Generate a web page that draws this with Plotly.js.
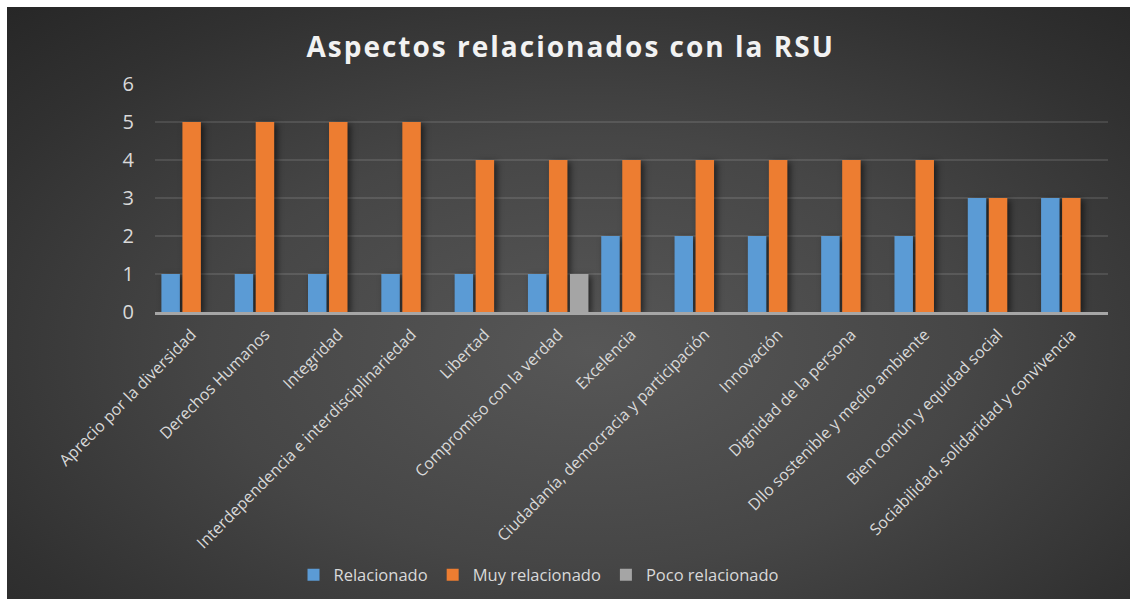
<!DOCTYPE html>
<html>
<head>
<meta charset="utf-8">
<script src="https://cdn.plot.ly/plotly-3.0.1.min.js"></script>
<style>
  html, body { margin: 0; padding: 0; background: #ffffff; }
  #wrap { position: relative; width: 1130px; height: 599px; overflow: hidden; }
  #bg { position: absolute; left: 7px; top: 7px; width: 1123px; height: 592px;
        background: radial-gradient(ellipse 75% 80% at 52% 58%, #575757 0%, #464646 45%, #313131 80%, #272727 100%); }
  #chart { position: absolute; left: 0; top: 0; width: 1130px; height: 599px; }
  .gtitle { letter-spacing: 2px; }
  .barlayer .point path { filter: drop-shadow(3px 2px 3px rgba(0,0,0,0.55)); }
</style>
</head>
<body>
<div id="wrap"><div id="bg"></div><div id="chart"></div></div>
<script>
const categories = [
  "Aprecio por la diversidad",
  "Derechos Humanos",
  "Integridad",
  "Interdependencia e interdisciplinariedad",
  "Libertad",
  "Compromiso con la verdad",
  "Excelencia",
  "Ciudadanía, democracia y participación",
  "Innovación",
  "Dignidad de la persona",
  "Dllo sostenible y medio ambiente",
  "Bien común y equidad social",
  "Sociabilidad, solidaridad y convivencia"
];
const relacionado     = [1, 1, 1, 1, 1, 1, 2, 2, 2, 2, 2, 3, 3];
const muyRelacionado  = [5, 5, 5, 5, 4, 4, 4, 4, 4, 4, 4, 3, 3];
const pocoRelacionado = [null, null, null, null, null, 1, null, null, null, null, null, null, null];
const seriesNames = ["Relacionado", "Muy relacionado", "Poco relacionado"];
const yTicks = [0, 1, 2, 3, 4, 5, 6];

const colors = ["#5b9bd5", "#ed7d31", "#a5a5a5"];
const data = [relacionado, muyRelacionado, pocoRelacionado].map((vals, i) => ({
  type: "bar",
  name: seriesNames[i],
  x: categories,
  y: vals,
  marker: { color: colors[i], line: { width: 0 } },
  hoverinfo: "x+y+name"
}));

const layout = {
  width: 1130,
  height: 599,
  paper_bgcolor: "rgba(0,0,0,0)",
  plot_bgcolor: "rgba(0,0,0,0)",
  font: { family: "Open Sans, sans-serif", color: "#d9d9d9" },
  margin: { l: 155, r: 22, t: 84, b: 287, pad: 0 },
  title: {
    text: "<b>Aspectos relacionados con la RSU</b>",
    font: { family: "Open Sans, sans-serif", size: 28, color: "#f2f2f2" },
    x: 0.505, xanchor: "center",
    y: 1 - 47 / 599, yanchor: "middle"
  },
  barmode: "group",
  bargap: 0.14,
  bargroupgap: 0.12,
  xaxis: {
    type: "category",
    tickangle: -45,
    tickfont: { size: 16, color: "#d9d9d9" },
    showgrid: false,
    showline: true,
    linecolor: "#a6a6a6",
    linewidth: 3,
    ticks: "",
    ticklabelstandoff: 4,
    fixedrange: true
  },
  yaxis: {
    range: [0, 6],
    tickvals: yTicks,
    ticktext: yTicks.map(String),
    tickfont: { size: 20, color: "#d9d9d9" },
    showgrid: true,
    gridcolor: "rgba(255,255,255,0.11)",
    gridwidth: 2,
    zeroline: false,
    showline: false,
    ticks: "",
    ticklabelstandoff: 20,
    fixedrange: true
  },
  showlegend: true,
  legend: {
    orientation: "h",
    xref: "container",
    yref: "container",
    x: 0.477, xanchor: "center",
    y: 24 / 599, yanchor: "middle",
    font: { size: 16.5, color: "#d9d9d9" },
    bgcolor: "rgba(0,0,0,0)",
    traceorder: "normal"
  }
};

Plotly.newPlot("chart", data, layout, { displayModeBar: false, staticPlot: true });
</script>
</body>
</html>
